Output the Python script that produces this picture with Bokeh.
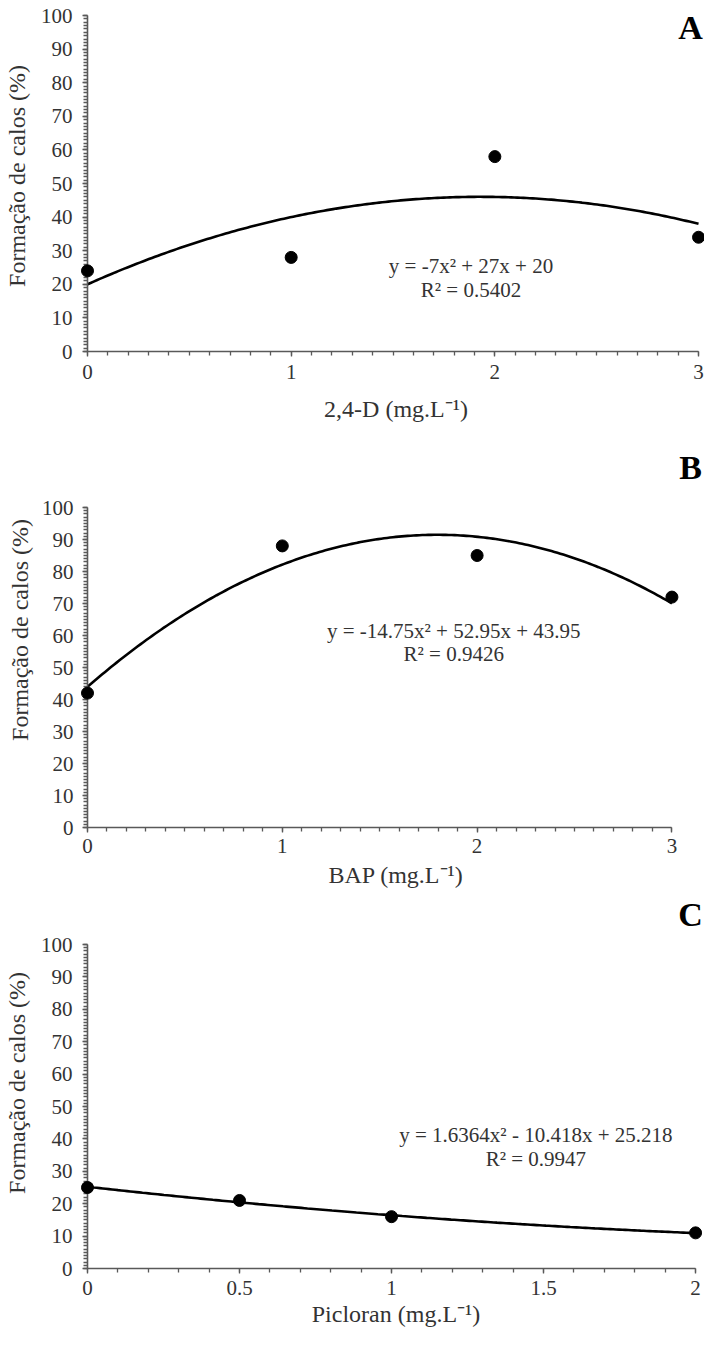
import numpy as np
from bokeh.plotting import figure
from bokeh.layouts import column
from bokeh.models import Range1d, SingleIntervalTicker, Label
from bokeh.embed import file_html
from bokeh.resources import INLINE

# ---------------- data ----------------
dose_24d = [0, 1, 2, 3]
callus_24d = [24, 28, 58, 34]
dose_bap = [0, 1, 2, 3]
callus_bap = [42, 88, 85, 72]
dose_picloran = [0, 0.5, 1, 2]
callus_picloran = [25, 21, 16, 11]

eq_24d = ["y = -7x\u00b2 + 27x + 20", "R\u00b2 = 0.5402"]
eq_bap = ["y = -14.75x\u00b2 + 52.95x + 43.95", "R\u00b2 = 0.9426"]
eq_picloran = ["y = 1.6364x\u00b2 - 10.418x + 25.218", "R\u00b2 = 0.9947"]

x_titles = ["2,4-D (mg.L\u207b\u00b9)", "BAP (mg.L\u207b\u00b9)", "Picloran (mg.L\u207b\u00b9)"]
y_title = "Formação de calos (%)"
letters = ["A", "B", "C"]
picloran_ticks = [0, 0.5, 1, 1.5, 2]
picloran_tick_labels = ["0", "0.5", "1", "1.5", "2"]

FONT = "'Liberation Serif', 'Times New Roman', serif"
TXT = "#333333"
AX = "#595959"
PAGE_RIGHT = 712


def panel(xs, ys, x_max, x_int, x_minor, x_title, eq, eq_px, eq_py1, eq_py2,
          letter, let_px, let_py, fig_top, fig_bot, ax_top, ax_bot, ax0, ax1,
          xs1, xs2, ys1, ys2, overrides=None):
    sx = (ax1 - ax0) / x_max          # px per x unit
    sy = (ax_bot - ax_top) / 100.0    # px per y unit
    x_end = x_max + (PAGE_RIGHT - ax1) / sx
    y_end = 100 + (ax_top - fig_top) / sy
    p = figure(width=704, height=fig_bot - fig_top, output_backend="svg",
               toolbar_location=None, x_range=Range1d(0, x_end),
               y_range=Range1d(0, y_end))
    p.min_border_left = ax0 - 8
    p.min_border_right = 0
    p.min_border_top = 0
    p.min_border_bottom = fig_bot - ax_bot
    p.outline_line_color = None
    p.xgrid.visible = False
    p.ygrid.visible = False
    p.background_fill_color = "white"
    p.border_fill_color = "white"

    p.xaxis.ticker = SingleIntervalTicker(interval=x_int, num_minor_ticks=x_minor)
    p.yaxis.ticker = SingleIntervalTicker(interval=10, num_minor_ticks=10)
    p.xaxis.bounds = (0, x_max)
    p.yaxis.bounds = (0, 100)
    if overrides:
        p.xaxis.major_label_overrides = overrides
    for ax in (p.xaxis, p.yaxis):
        ax.axis_line_color = AX
        ax.axis_line_width = 1.6
        ax.major_tick_line_color = AX
        ax.minor_tick_line_color = AX
        ax.major_tick_line_width = 1.3
        ax.minor_tick_line_width = 1.3
        ax.major_tick_in = 0
        ax.major_tick_out = 5
        ax.minor_tick_in = 0
        ax.minor_tick_out = 4
        ax.major_label_text_font = FONT
        ax.major_label_text_font_size = "21px"
        ax.major_label_text_color = TXT
        ax.axis_label_text_font = FONT
        ax.axis_label_text_font_size = "24px"
        ax.axis_label_text_font_style = "normal"
        ax.axis_label_text_color = TXT
    p.xaxis.axis_label = x_title
    p.yaxis.axis_label = y_title
    p.xaxis.major_label_standoff = xs1
    p.xaxis.axis_label_standoff = xs2
    p.yaxis.major_label_standoff = ys1
    p.yaxis.axis_label_standoff = ys2

    coeffs = np.polyfit(xs, ys, 2)
    xx = np.linspace(0, x_max, 200)
    p.line(xx, np.polyval(coeffs, xx), line_color="black", line_width=2.6)
    r = p.scatter(xs, ys, size=12, fill_color="black", line_color="black")
    r.level = "overlay"

    ex = (eq_px - ax0) / sx
    for txt, py in ((eq[0], eq_py1), (eq[1], eq_py2)):
        p.add_layout(Label(x=ex, y=(ax_bot - py) / sy, text=txt, text_font=FONT,
                           text_font_size="21px", text_color=TXT,
                           text_align="center", text_baseline="middle"))
    p.add_layout(Label(x=(let_px - ax0) / sx, y=(ax_bot - let_py) / sy,
                       text=letter, text_font=FONT,
                       text_font_size="34px", text_font_style="bold",
                       text_color="black", text_align="center",
                       text_baseline="middle"))
    return p


pA = panel(dose_24d, callus_24d, 3, 1, 10, x_titles[0], eq_24d, 477, 273, 297,
           letters[0], 698, 35, 8, 440, 23, 359, 91, 706, 8, 14, 10, 8)
pB = panel(dose_bap, callus_bap, 3, 1, 10, x_titles[1], eq_bap, 458, 638, 661,
           letters[1], 698, 475, 440, 905, 515, 835, 87, 679, 6, 6, 9, 6)
pC = panel(dose_picloran, callus_picloran, 2, 0.5, 5, x_titles[2], eq_picloran,
           542, 1142, 1166, letters[2], 698, 922, 905, 1344, 952, 1276,
           90, 703, 7, 3, 10, 8,
           overrides={t: l for t, l in zip(picloran_ticks, picloran_tick_labels)})

layout = column(pA, pB, pC, spacing=0)
open("out.html", "w").write(file_html(layout, INLINE))
